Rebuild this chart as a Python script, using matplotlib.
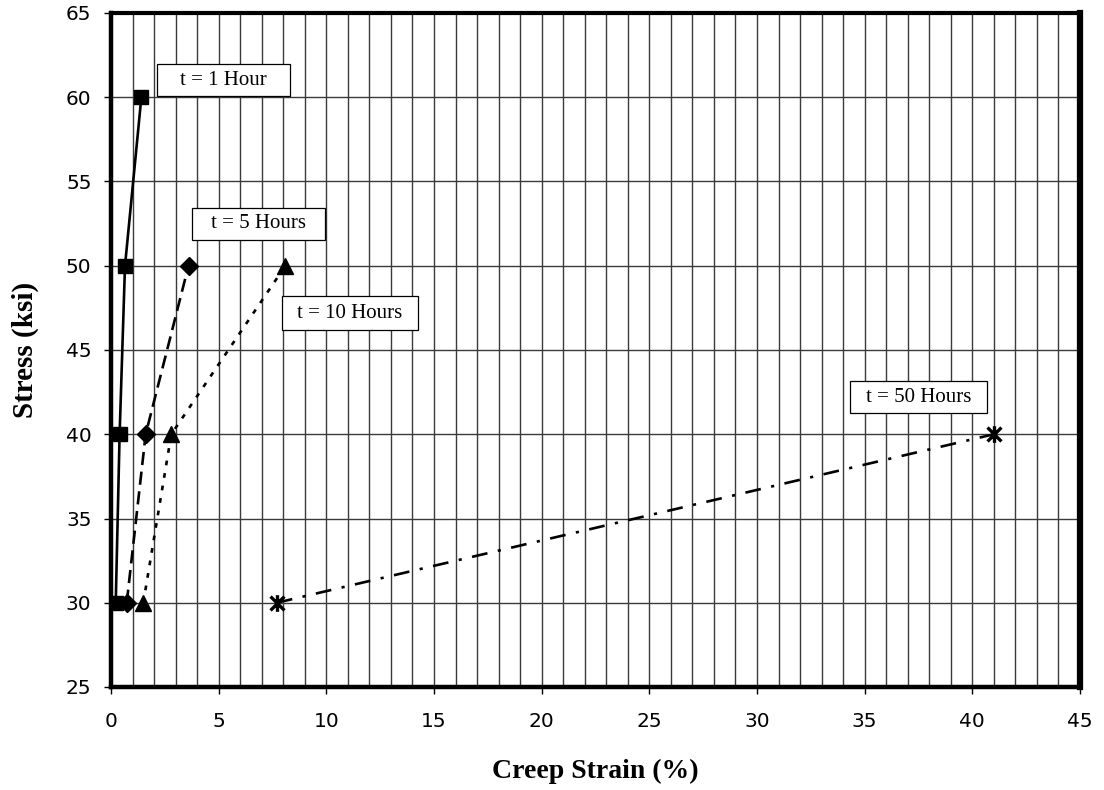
import numpy as np
import matplotlib
matplotlib.use('Agg')
import matplotlib.pyplot as plt
from matplotlib.path import Path
from matplotlib.patches import Rectangle

# creep strain (%) vs stress (ksi) at several times
strain_1h = [0.22, 0.40, 0.65, 1.41]
stress_1h = [30, 40, 50, 60]
strain_5h = [0.73, 1.61, 3.6]
stress_5h = [30, 40, 50]
strain_10h = [1.5, 2.8, 8.1]
stress_10h = [30, 40, 50]
strain_50h = [7.7, 41.0]
stress_50h = [30, 40]

labels = ['t = 1 Hour', 't = 5 Hours', 't = 10 Hours', 't = 50 Hours']
# label boxes: (x0, x1, y0, y1) in data units
label_boxes = [(2.14, 8.31, 60.07, 61.97),
               (3.76, 9.94, 51.53, 53.43),
               (7.94, 14.26, 46.19, 48.20),
               (34.32, 40.69, 41.26, 43.16)]

# asterisk marker like the spreadsheet "star"
star = Path([(-1, -1), (1, 1), (-1, 1), (1, -1), (0, -1.2), (0, 1.2)],
            [Path.MOVETO, Path.LINETO, Path.MOVETO, Path.LINETO, Path.MOVETO, Path.LINETO])

fig = plt.figure(figsize=(11.04, 7.90), dpi=100)
ax = fig.add_axes([111 / 1104, 103 / 790, 969 / 1104, 674 / 790])

lw = 1.9
ax.plot(strain_1h, stress_1h, color='black', lw=lw, ls='-', marker='s', ms=10, zorder=5)
ax.plot(strain_5h, stress_5h, color='black', lw=lw, ls=(0, (5, 2.5)), marker='D', ms=9, zorder=5)
ax.plot(strain_10h, stress_10h, color='black', lw=lw, ls=(0, (1.8, 3)), marker='^', ms=12, zorder=5)
ax.plot(strain_50h, stress_50h, color='black', lw=lw, ls=(0, (6, 4, 1.2, 4)), marker=star,
        ms=12, mew=2.4, zorder=5)

for (x0, x1, y0, y1), txt in zip(label_boxes, labels):
    ax.add_patch(Rectangle((x0, y0), x1 - x0, y1 - y0, facecolor='white',
                           edgecolor='black', lw=0.9, zorder=6))
    ax.text((x0 + x1) / 2, (y0 + y1) / 2, txt, ha='center', va='center',
            family='Liberation Serif', fontsize=15, zorder=7)

ax.set_xlim(0, 45)
ax.set_ylim(25, 65)
ax.set_xticks(np.arange(0, 46, 5))
ax.set_yticks(np.arange(25, 66, 5))
ax.set_xticks(np.arange(0, 46, 1), minor=True)
ax.grid(True, which='major', axis='y', color='#3a3a3a', lw=1.0)
ax.grid(True, which='both', axis='x', color='#3a3a3a', lw=1.0)
ax.set_axisbelow(True)

ax.tick_params(axis='both', which='major', direction='out', length=5, width=1,
               labelsize=14.5, colors='black')
ax.tick_params(axis='x', which='minor', length=0)
ax.tick_params(axis='x', pad=13)
ax.tick_params(axis='y', pad=9)
for lab in ax.get_xticklabels() + ax.get_yticklabels():
    lab.set_family('DejaVu Sans')

ax.spines['left'].set_linewidth(3.2)
ax.spines['bottom'].set_linewidth(3.2)
ax.spines['top'].set_linewidth(3.0)
ax.spines['right'].set_linewidth(4.5)

ax.set_xlabel('Creep Strain (%)', family='Liberation Serif', fontweight='bold',
              fontsize=20, labelpad=20)
ax.set_ylabel('Stress (ksi)', family='Liberation Serif', fontweight='bold',
              fontsize=21, labelpad=19)

fig.savefig('out.png', dpi=100)
